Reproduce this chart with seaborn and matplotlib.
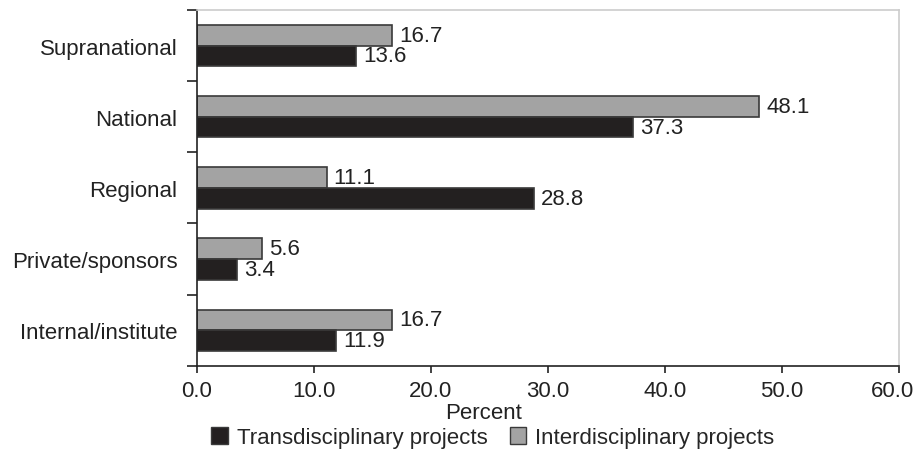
import matplotlib
matplotlib.use("Agg")
import matplotlib.pyplot as plt
import matplotlib.transforms as mtransforms
import seaborn as sns
import pandas as pd
import numpy as np
from matplotlib.patches import Patch

categories = ["Supranational", "National", "Regional", "Private/sponsors", "Internal/institute"]
interdisciplinary = [16.7, 48.1, 11.1, 5.6, 16.7]
transdisciplinary = [13.6, 37.3, 28.8, 3.4, 11.9]
series_names = ["Interdisciplinary projects", "Transdisciplinary projects"]
x_ticks = [0, 10, 20, 30, 40, 50, 60]

df = pd.DataFrame({
    "Source": categories * 2,
    "Percent": interdisciplinary + transdisciplinary,
    "Series": [series_names[0]] * len(categories) + [series_names[1]] * len(categories),
})

sns.set_style("white")
plt.rcParams["font.family"] = ["Liberation Sans", "DejaVu Sans"]

FS = 16
TXT = "#222222"
colors = {series_names[0]: "#a3a3a3", series_names[1]: "#231f20"}

fig = plt.figure(figsize=(9.16, 4.77), dpi=100)
ax = fig.add_axes([0.215, 0.231, 0.766, 0.746])

sns.barplot(data=df, y="Source", x="Percent", hue="Series", order=categories,
            hue_order=series_names, palette=colors, orient="h", width=0.58,
            gap=0, edgecolor="#3a3a3a", linewidth=1.2, legend=False, ax=ax)

for cont in ax.containers:
    ax.bar_label(cont, fmt="%.1f", padding=5, fontsize=FS, color=TXT)

ax.set_xlim(0, 60)
ax.set_ylim(len(categories) - 0.5, -0.5)
ax.set_xticks(x_ticks)
ax.set_xticklabels([f"{v:.1f}" for v in x_ticks], fontsize=FS, color=TXT)
ax.set_yticks(range(len(categories)))
ax.set_yticklabels(categories, fontsize=FS, color=TXT)
ax.tick_params(axis="y", which="major", left=True, length=0, pad=14)
ax.set_yticks(np.arange(-0.5, len(categories)), minor=True)
ax.tick_params(axis="y", which="minor", left=True, length=7, width=1.2,
               direction="out", color=TXT)
ax.tick_params(axis="x", which="major", bottom=True, length=5, width=1.2,
               direction="out", color=TXT, pad=5)

# keep the rightmost tick label inside the figure edge
last = ax.get_xticklabels()[-1]
last.set_transform(last.get_transform() +
                   mtransforms.ScaledTranslation(-6 / 100, 0, fig.dpi_scale_trans))

ax.set_xlabel("Percent", fontsize=FS, color=TXT)
ax.xaxis.set_label_coords(24.5 / 60, -0.13)
ax.xaxis.label.set_va("center")
ax.set_ylabel("")

for side in ("left", "bottom"):
    ax.spines[side].set_color(TXT)
    ax.spines[side].set_linewidth(1.2)
for side in ("top", "right"):
    ax.spines[side].set_color("#cccccc")
    ax.spines[side].set_linewidth(1.2)

handles = [Patch(facecolor=colors[series_names[1]], edgecolor="#3a3a3a", label=series_names[1]),
           Patch(facecolor=colors[series_names[0]], edgecolor="#3a3a3a", label=series_names[0])]
fig.legend(handles=handles, loc="center", bbox_to_anchor=(0.538, 0.08), ncol=2,
           frameon=False, fontsize=FS, handlelength=0.75, handleheight=0.75,
           handletextpad=0.4, columnspacing=1.0)

fig.savefig("out.png", dpi=100)
